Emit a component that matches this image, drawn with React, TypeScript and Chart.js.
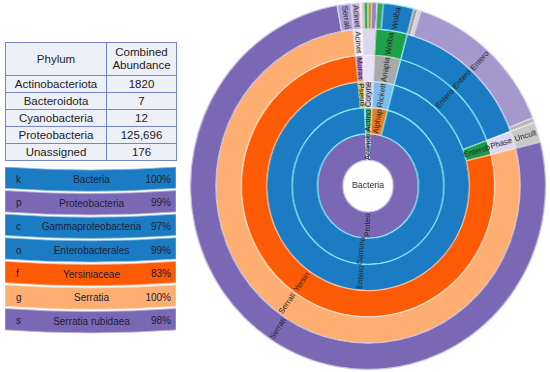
import React, { useEffect, useRef } from "react";
import { Chart, registerables } from "chart.js";
Chart.register(...registerables);

// ---------- table ----------
const phylumNames = ["Actinobacteriota", "Bacteroidota", "Cyanobacteria", "Proteobacteria", "Unassigned"];
const phylumValues = [1820, 7, 12, 125696, 176];
const abundanceLabels = ["1820", "7", "12", "125,696", "176"];

// ---------- key ----------
const keyRanks = ["k", "p", "c", "o", "f", "g", "s"];
const keyNames = ["Bacteria", "Proteobacteria", "Gammaproteobacteria", "Enterobacterales", "Yersiniaceae", "Serratia", "Serratia rubidaea"];
const keyPercents = ["100%", "99%", "97%", "99%", "83%", "100%", "98%"];
const keyColors = ["#1b7cc3", "#7b68b5", "#1b7cc3", "#1b7cc3", "#fd5a05", "#fdae70", "#7b68b5"];

// ---------- sunburst rings (clockwise from the top) ----------
const T = "rgba(0,0,0,0)";
const BLUE = "#1b7cc3";
const PURPLE = "#7b68b5";

const phylumColors = ["#4a8fd0", "#8cc98c", "#8cc98c", PURPLE, "#bbbbbb"];
const phylumShort = ["Actinob", "", "", "Proteo", ""];

const classNames = ["Actinomycetia", "Bacteroidia", "Cyanobacteriia", "Alphaproteobacteria", "Gammaproteobacteria", "(unassigned)"];
const classValues = [1820, 7, 12, 4257, 121439, 176];
const classColors = ["#3faa6a", "#9dd29d", "#9dd29d", "#ea7d20", BLUE, T];
const classShort = ["Actino", "", "", "Alphap", "Gamma", ""];

const orderNames = ["Corynebacteriales", "Bacteroidales", "Cyanobacteriales", "Rickettsiales", "Enterobacterales", "Pseudomonadales", "(unassigned)"];
const orderValues = [1820, 7, 12, 4257, 120438, 1001, 176];
const orderColors = ["#c7bde3", "#b6dcb6", "#b6dcb6", "#7cbde9", BLUE, "#c9b436", T];
const orderShort = ["Coryne", "", "", "Rickett", "Entero", "Pseud", ""];

const familyNames = ["Corynebacteriaceae", "Bacteroidales fam.", "Cyanobacteriales fam.", "Anaplasmataceae", "Enterobacteriaceae", "Enterobacterales (other)", "Yersiniaceae", "Moraxellaceae", "(unassigned)"];
const familyValues = [1820, 7, 12, 4257, 19400, 2300, 98738, 1001, 176];
const familyColors = ["#e8e2f4", "#cfe8cf", "#cfe8cf", "#a9a9a9", BLUE, "#1a9c4a", "#fd5a05", "#b683c9", T];
const familyShort = ["", "", "", "Anapla", "Entero", "Enterob", "Yersin", "Morax", ""];

const genusNames = ["Corynebacterium", "Bacteroidales gen.", "Cyanobacteriales gen.", "Wolbachia", "Enterobacter", "Phaseolibacter", "Serratia", "Acinetobacter", "(unassigned)"];
const genusValues = [1820, 7, 12, 4257, 19400, 2300, 98738, 1001, 176];
const genusColors = ["#ddd5ee", "#dcefdc", "#dcefdc", "#1fa04b", BLUE, "#dcd6f2", "#fdae70", "#f2e5f3", T];
const genusShort = ["", "", "", "Wolba", "Entero", "Phase", "Serrati", "Acinet", ""];

const speciesNames = ["Corynebacterium sp. a", "Corynebacterium sp. b", "Corynebacterium sp. c", "Corynebacterium sp. d", "Bacteroidales sp.", "Cyanobacteriales sp.", "Wolbachia sp. a", "Wolbachia sp.", "Enterobacter sp. a", "Enterobacter sp. b", "Enterobacter sp.", "Enterobacter sp. c", "Uncultured bacterium", "Serratia rubidaea", "Serratia (other)", "Acinetobacter sp.", "(unassigned)"];
const speciesValues = [320, 460, 420, 620, 7, 12, 710, 3547, 450, 400, 18012, 538, 2300, 97142, 1596, 1001, 176];
const speciesColors = ["#e8b7d8", "#3aa55a", "#a9a23a", "#9b7fc4", "#e3f2e3", "#e3f2e3", "#3aa55a", BLUE, "#9a9a9a", "#d0d0d0", "#a598cf", "#b8b8b8", "#c8c8c8", PURPLE, "#aba2d4", "#c6b3da", T];
const speciesShort = ["", "", "", "", "", "", "", "Wolba", "", "", "Entero", "", "Uncult", "Serrati", "Serrati", "Acinet", ""];

const rings = [
  { rank: "phylum", names: phylumNames, values: phylumValues, colors: phylumColors, short: phylumShort },
  { rank: "class", names: classNames, values: classValues, colors: classColors, short: classShort },
  { rank: "order", names: orderNames, values: orderValues, colors: orderColors, short: orderShort },
  { rank: "family", names: familyNames, values: familyValues, colors: familyColors, short: familyShort },
  { rank: "genus", names: genusNames, values: genusValues, colors: genusColors, short: genusShort },
  { rank: "species", names: speciesNames, values: speciesValues, colors: speciesColors, short: speciesShort },
];

function mixWhite(hex: string, t: number) {
  const n = parseInt(hex.slice(1), 16);
  const r = (n >> 16) & 255, g = (n >> 8) & 255, b = n & 255;
  const m = (c: number) => Math.round(c + (255 - c) * t);
  return `rgb(${m(r)},${m(g)},${m(b)})`;
}
function borderFor(c: string) {
  if (c === T) return T;
  if (c === BLUE) return "#86eef8";
  return mixWhite(c, 0.6);
}

const FONT = "'Liberation Sans', Arial, sans-serif";

const labelPlugin = {
  id: "ringLabels",
  afterDatasetsDraw(chart: any) {
    const ctx = chart.ctx;
    let cx = 0, cy = 0;
    chart.data.datasets.forEach((ds: any, di: number) => {
      const meta = chart.getDatasetMeta(di);
      meta.data.forEach((arc: any, i: number) => {
        const p = arc.getProps(["x", "y", "startAngle", "endAngle", "innerRadius", "outerRadius"], true);
        cx = p.x; cy = p.y;
        const text = ds.shortLabels[i];
        if (!text) return;
        const mid = (p.startAngle + p.endAngle) / 2;
        const r = (p.innerRadius + p.outerRadius) / 2;
        ctx.save();
        ctx.translate(p.x + r * Math.cos(mid), p.y + r * Math.sin(mid));
        let rot = mid;
        if (Math.cos(mid) < -0.0001) rot += Math.PI;
        ctx.rotate(rot);
        ctx.font = `8px ${FONT}`;
        ctx.textAlign = "center";
        ctx.textBaseline = "middle";
        ctx.fillStyle = "#222";
        ctx.fillText(text, 0, 0);
        ctx.restore();
      });
    });
    ctx.save();
    ctx.font = `9px ${FONT}`;
    ctx.textAlign = "center";
    ctx.textBaseline = "middle";
    ctx.fillStyle = "#222";
    ctx.fillText("Bacteria", cx, cy);
    ctx.restore();
  },
};

function Sunburst() {
  const ref = useRef<HTMLCanvasElement>(null);
  useEffect(() => {
    const datasets = rings
      .slice()
      .reverse()
      .map((r) => ({
        label: r.rank,
        data: r.values,
        backgroundColor: r.colors,
        borderColor: r.colors.map(borderFor),
        borderWidth: r.colors.map((c) => (c === T ? 0 : 1.2)),
        shortLabels: r.short,
        names: r.names,
      }));
    const chart = new Chart(ref.current as HTMLCanvasElement, {
      type: "doughnut",
      data: { labels: speciesNames, datasets: datasets as any },
      options: {
        animation: false,
        responsive: true,
        maintainAspectRatio: false,
        cutout: 26,
        rotation: -2.2,
        events: [],
        plugins: { legend: { display: false }, tooltip: { enabled: false } },
      } as any,
      plugins: [labelPlugin],
    });
    return () => chart.destroy();
  }, []);
  return (
    <div style={{ position: "absolute", left: 184, top: 2, width: 368, height: 368, transform: "scaleX(0.968)", transformOrigin: "50% 50%" }}>
      <canvas ref={ref} />
    </div>
  );
}

function PhylumTable() {
  const border = "1px solid #7486c8";
  const cell: React.CSSProperties = { border, padding: 0, textAlign: "center", fontSize: 11.5, color: "#222", background: "#eef0f7" };
  return (
    <table style={{ position: "absolute", left: 5, top: 42, width: 171, borderCollapse: "collapse", tableLayout: "fixed", fontFamily: FONT, border: "1.5px solid #7486c8" }}>
      <colgroup>
        <col style={{ width: 101 }} />
        <col style={{ width: 70 }} />
      </colgroup>
      <tbody>
        <tr style={{ height: 33 }}>
          <td style={cell}>Phylum</td>
          <td style={{ ...cell, lineHeight: "13px" }}>Combined<br />Abundance</td>
        </tr>
        {phylumNames.map((n, i) => (
          <tr key={n} style={{ height: 17 }}>
            <td style={{ ...cell, lineHeight: "15px" }}>{n}</td>
            <td style={{ ...cell, lineHeight: "15px" }}>{abundanceLabels[i]}</td>
          </tr>
        ))}
      </tbody>
    </table>
  );
}

function TaxonKey() {
  const W = 171, H = 21.3, P = 23.6, S = 3;
  return (
    <svg style={{ position: "absolute", left: 5, top: 167 }} width={W} height={172}>
      {keyRanks.map((k, i) => {
        const y0 = i * P;
        const d = `M0,${y0} Q${W / 2},${y0 + 2 * S} ${W},${y0} L${W},${y0 + H} Q${W / 2},${y0 + H + 2 * S} 0,${y0 + H} Z`;
        const ty = y0 + H / 2 + 2.5;
        return (
          <g key={k} fontFamily={FONT} fontSize={10} fill="#1c1c38">
            <path d={d} fill={keyColors[i]} stroke={mixWhite(keyColors[i], 0.5)} strokeWidth={0.8} />
            <text x={11} y={ty} dominantBaseline="middle">{k}</text>
            <text x={W / 2 + 1} y={ty + 0.5} textAnchor="middle" dominantBaseline="middle">{keyNames[i]}</text>
            <text x={W - 5} y={ty} textAnchor="end" dominantBaseline="middle">{keyPercents[i]}</text>
          </g>
        );
      })}
    </svg>
  );
}

export default function App() {
  return (
    <div style={{ position: "absolute", left: 0, top: 0, width: 550, height: 372, background: "#fff", overflow: "hidden" }}>
      <PhylumTable />
      <TaxonKey />
      <Sunburst />
    </div>
  );
}
